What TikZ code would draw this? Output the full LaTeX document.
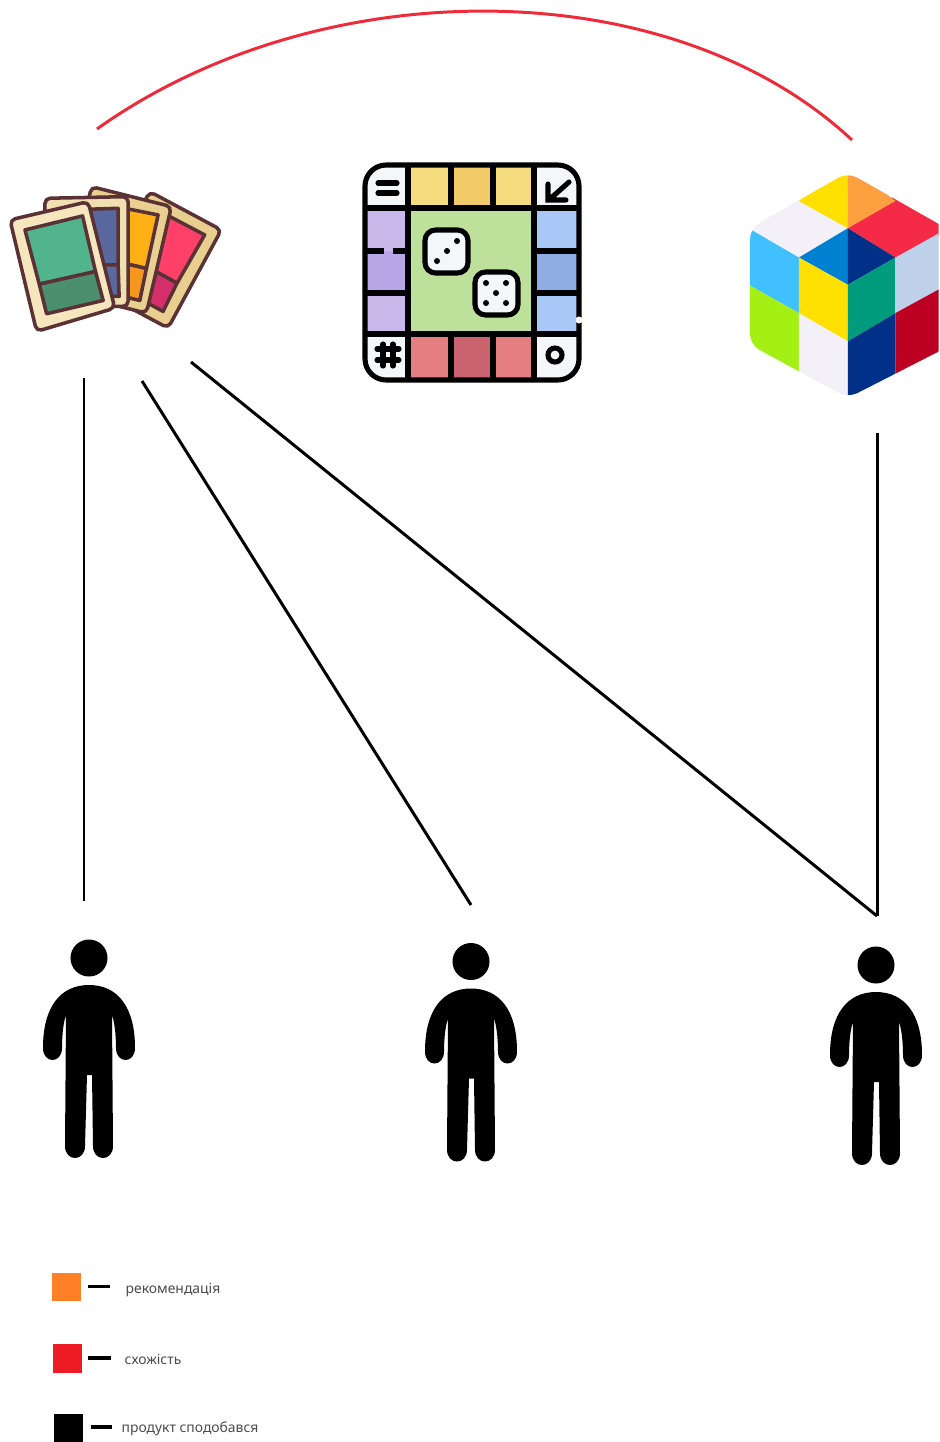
\documentclass[tikz,border=0pt]{standalone}
\usepackage{fontspec}
\setmainfont{Noto Sans}
\definecolor{cardLine}{RGB}{90, 50, 53}
\definecolor{cardRedFrame}{RGB}{232, 207, 143}
\definecolor{cardRed}{RGB}{255, 64, 104}
\definecolor{cardRedLow}{RGB}{213, 47, 107}
\definecolor{cardOrangeFrame}{RGB}{233, 207, 144}
\definecolor{cardOrange}{RGB}{255, 176, 20}
\definecolor{cardOrangeLow}{RGB}{245, 150, 30}
\definecolor{cardBlueFrame}{RGB}{240, 223, 176}
\definecolor{cardBlue}{RGB}{90, 104, 160}
\definecolor{cardGreenFrame}{RGB}{245, 230, 190}
\definecolor{cardGreen}{RGB}{82, 180, 140}
\definecolor{cardGreenLow}{RGB}{74, 143, 110}
\definecolor{boardGreen}{RGB}{189, 224, 154}
\definecolor{boardCorner}{RGB}{244, 247, 250}
\definecolor{boardYellow}{RGB}{246, 220, 126}
\definecolor{boardYellowDark}{RGB}{242, 203, 104}
\definecolor{boardPurple}{RGB}{203, 184, 234}
\definecolor{boardPurpleDark}{RGB}{185, 166, 230}
\definecolor{boardBlue}{RGB}{168, 200, 248}
\definecolor{boardBlueDark}{RGB}{143, 173, 226}
\definecolor{boardRed}{RGB}{229, 126, 128}
\definecolor{boardRedDark}{RGB}{201, 100, 111}
\definecolor{cubeYellow}{RGB}{255, 224, 0}
\definecolor{cubeOrange}{RGB}{255, 160, 64}
\definecolor{cubeWhite}{RGB}{244, 240, 248}
\definecolor{cubeRed}{RGB}{245, 42, 70}
\definecolor{cubeBlue}{RGB}{0, 128, 208}
\definecolor{cubeNavy}{RGB}{0, 48, 135}
\definecolor{cubeSky}{RGB}{64, 192, 255}
\definecolor{cubeTeal}{RGB}{0, 155, 125}
\definecolor{cubePale}{RGB}{191, 208, 234}
\definecolor{cubeLime}{RGB}{164, 240, 20}
\definecolor{cubeCrimson}{RGB}{188, 0, 34}
\definecolor{similarRed}{RGB}{238, 43, 59}
\definecolor{keyOrangeFill}{RGB}{255, 128, 38}
\definecolor{keyRedFill}{RGB}{237, 28, 36}
\definecolor{legendText}{RGB}{75, 75, 75}
\tikzset{
	person/.pic={
		\fill (0,0) circle (0.185cm);
		\fill (0,27) .. controls (-28,27) and (-46,48) .. (-46,90) .. controls (-46,106) and (-27,106) .. (-27,90) .. controls (-27,75) and (-25,62) .. (-23,57) -- (-24,188) .. controls (-24,204) and (-4,204) .. (-4,188) -- (-2,117) -- (3,117) -- (4,188) .. controls (4,204) and (24,204) .. (24,188) -- (23,57) .. controls (25,62) and (27,75) .. (27,90) .. controls (27,106) and (46,106) .. (46,90) .. controls (46,48) and (28,27) .. (0,27) -- cycle;
	}
}
\begin{document}
\begin{tikzpicture}[x=0.01cm, y=-0.01cm,
	liked/.style={draw=black, line width=0.85pt},
	similar/.style={draw=similarRed, line width=0.85pt},
	card/.style={draw=cardLine, line width=1pt, line join=round, rounded corners=1.5pt},
	panel/.style={draw=cardLine, line width=1pt, line join=round},
	boardline/.style={draw=black, line width=1.45pt},
	pip/.style={fill=black},
	die/.style={draw=black, fill=boardCorner, line width=1.45pt, rounded corners=3pt},
	swatch/.style={minimum width=0.29cm, minimum height=0.285cm, inner sep=0pt},
	keydash/.style={draw=black, line width=0.9pt},
	legend/.style={anchor=base west, inner sep=0pt, font=\fontsize{3.95}{5}\selectfont, text=legendText}]
	\useasboundingbox (0,0) rectangle (939,1442);

	\coordinate (cardsTop) at (97,129);
	\coordinate (cubeTop) at (852,140);
	\coordinate (cardsA) at (84,378);
	\coordinate (cardsB) at (142,381);
	\coordinate (cardsC) at (191,362);
	\coordinate (cubeBottom) at (877,433);
	\coordinate (userAtop) at (84,901);
	\coordinate (userBtop) at (471,905);
	\coordinate (userCtop) at (877,916);

	\draw[similar] (cardsTop) .. controls (320,-30) and (670,-30) .. (cubeTop);
	\draw[liked] (cardsA)--(userAtop);
	\draw[liked] (cardsB)--(userBtop);
	\draw[liked] (cardsC)--(userCtop);
	\draw[liked] (cubeBottom)--(userCtop);

	\begin{scope}[shift={(0,170)}, x=0.00333cm, y=-0.00333cm]
		\filldraw[card, fill=cardRedFrame] (450,65)--(665,180)--(505,475)--(290,360)--cycle;
		\filldraw[panel, fill=cardRed] (450,108)--(615,195)--(532,340)--(367,250)--cycle;
		\filldraw[panel, fill=cardRedLow] (532,340)--(490,425)--(325,335)--(367,250)--cycle;
		\filldraw[card, fill=cardOrangeFrame] (275,50)--(515,110)--(440,430)--(200,370)--cycle;
		\filldraw[panel, fill=cardOrange] (300,100)--(475,135)--(440,296)--(265,255)--cycle;
		\filldraw[panel, fill=cardOrangeLow] (440,296)--(420,392)--(245,350)--(265,255)--cycle;
		\filldraw[card, fill=cardBlueFrame] (135,85)--(385,80)--(385,410)--(135,410)--cycle;
		\filldraw[panel, fill=cardBlue] (200,120)--(355,115)--(355,285)--(200,285)--cycle;
		\filldraw[panel, fill=cardBlue] (200,285)--(355,285)--(358,380)--(200,380)--cycle;
		\filldraw[card, fill=cardGreenFrame] (30,150)--(265,95)--(345,415)--(110,485)--cycle;
		\filldraw[panel, fill=cardGreen] (75,180)--(248,138)--(287,305)--(118,343)--cycle;
		\filldraw[panel, fill=cardGreenLow] (118,343)--(287,305)--(310,392)--(140,432)--cycle;
	\end{scope}

	\fill[boardCorner, rounded corners=6pt] (365,165) rectangle (579,380);
	\fill[boardGreen] (408,208) rectangle (534,334);
	\fill[boardYellow] (408,167) rectangle (452,208);
	\fill[boardYellowDark] (452,167) rectangle (493,208);
	\fill[boardYellow] (493,167) rectangle (534,208);
	\fill[boardPurple] (367,208) rectangle (408,251);
	\fill[boardPurpleDark] (367,251) rectangle (408,293);
	\fill[boardPurple] (367,293) rectangle (408,334);
	\fill[boardBlue] (534,208) rectangle (577,251);
	\fill[boardBlueDark] (534,251) rectangle (577,293);
	\fill[boardBlue] (534,293) rectangle (577,334);
	\fill[boardRed] (408,334) rectangle (452,378);
	\fill[boardRedDark] (452,334) rectangle (493,378);
	\fill[boardRed] (493,334) rectangle (534,378);
	\foreach \x in {408,451,493,534} {
		\draw[boardline] (\x,165)--(\x,208);
		\draw[boardline] (\x,334)--(\x,380);
	}
	\foreach \x in {408,534}
		\draw[boardline] (\x,208)--(\x,334);
	\foreach \y in {208,334}
		\draw[boardline] (365,\y)--(579,\y);
	\draw[boardline] (365,251)--(384,251) (393,251)--(408,251);
	\draw[boardline] (365,293)--(408,293);
	\draw[boardline] (534,251)--(579,251) (534,293)--(579,293);
	\draw[boardline, rounded corners=6pt] (365,165) rectangle (579,380);
	\fill[white] (579,320) circle (0.035cm);
	\draw[boardline, line cap=round] (378,183)--(397,183) (378,193)--(397,193);
	\draw[boardline, line cap=round] (569,182)--(550,199) (548,184)--(548,200)--(566,200);
	\draw[boardline, line cap=round] (383,344)--(383,366) (393,344)--(393,366) (377,349)--(399,349) (377,360)--(399,360);
	\draw[boardline] (555,355) circle (0.07cm);
	\filldraw[die] (425,230) rectangle (468,273);
	\filldraw[die] (475,272) rectangle (518,315);
	\foreach \x/\y in {457/241,447/251,437/261,486/283,506/283,496/293,486/303,506/303}
		\fill[pip] (\x,\y) circle (0.03cm);

	\begin{scope}[shift={(739,165)}, x=0.00333cm, y=-0.00333cm]
		\clip[rounded corners=3pt] (327,22)--(640,200)--(640,540)--(327,700)--(33,540)--(33,190)--cycle;
		\clip (0,0) rectangle (600,720);
		\fill[cubeWhite] (180,90)--(327,190)--(180,278)--(20,185)--cycle;
		\fill[cubeRed] (470,90)--(640,195)--(470,278)--(327,190)--cycle;
		\fill[cubeYellow] (180,108)--(327,0)--(327,190)--cycle;
		\fill[cubeOrange] (327,0)--(470,108)--(327,190)--cycle;
		\fill[cubeBlue] (327,190)--(180,278)--(327,360)--cycle;
		\fill[cubeNavy] (327,190)--(470,278)--(327,360)--cycle;
		\fill[cubeSky] (20,185)--(180,278)--(180,445)--(20,355)--cycle;
		\fill[cubeYellow] (180,278)--(327,360)--(327,530)--(180,445)--cycle;
		\fill[cubeTeal] (327,360)--(470,278)--(470,445)--(327,530)--cycle;
		\fill[cubePale] (470,278)--(640,183)--(640,352)--(470,445)--cycle;
		\fill[cubeLime] (20,355)--(180,445)--(180,640)--(20,560)--cycle;
		\fill[cubeWhite] (180,445)--(327,530)--(327,720)--(180,640)--cycle;
		\fill[cubeNavy] (327,530)--(470,445)--(470,640)--(327,720)--cycle;
		\fill[cubeCrimson] (470,445)--(640,352)--(640,540)--(470,640)--cycle;
	\end{scope}

	\pic[black] (userA) at (89,958) {person};
	\pic[black] (userB) at (471,961.5) {person};
	\pic[black] (userC) at (876,965) {person};

	\node[swatch, fill=keyOrangeFill] (keyOrange) at (66.5,1287) {};
	\node[swatch, fill=keyRedFill] (keyRed) at (67.5,1358.5) {};
	\node[swatch, fill=black] (keyBlack) at (68.5,1428) {};
	\coordinate (dashOrangeA) at (88,1286.5);
	\coordinate (dashOrangeB) at (110,1286.5);
	\coordinate (dashRedA) at (88,1358);
	\coordinate (dashRedB) at (111,1358);
	\coordinate (dashBlackA) at (91,1427);
	\coordinate (dashBlackB) at (112,1427);
	\draw[keydash] (dashOrangeA)--(dashOrangeB);
	\draw[keydash] (dashRedA)--(dashRedB);
	\draw[keydash] (dashBlackA)--(dashBlackB);
	\node[legend] (txtOrange) at (125,1293) {рекомендація};
	\node[legend] (txtRed) at (124,1364) {схожість};
	\node[legend] (txtBlack) at (121,1432) {продукт сподобався};
\end{tikzpicture}
\end{document}
